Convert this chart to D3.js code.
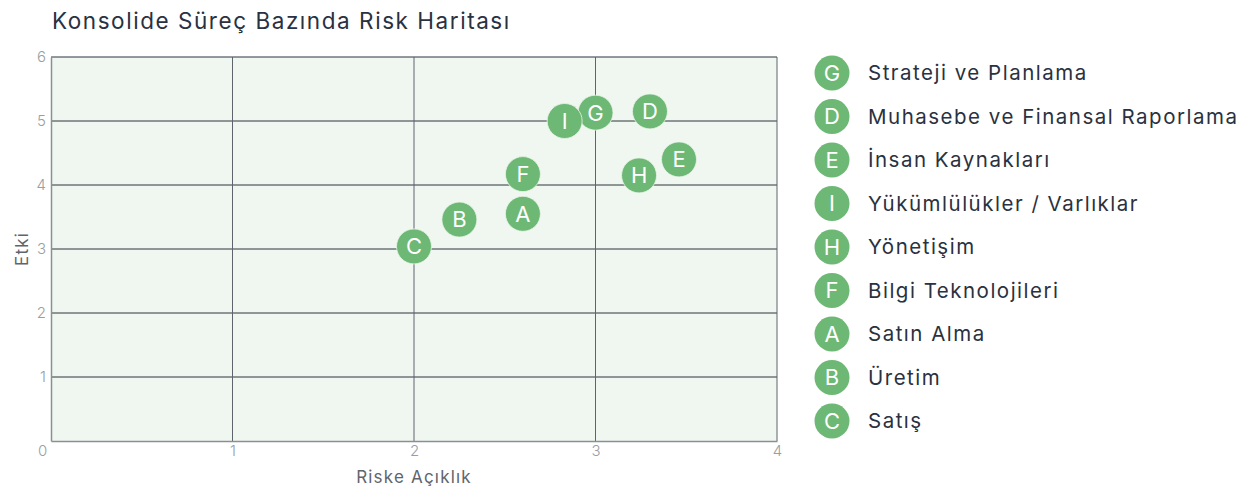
<!DOCTYPE html>
<html><head><meta charset="utf-8">
<script src="https://cdn.jsdelivr.net/npm/d3@7"></script>
<style>
body{margin:0;background:#fff;}
svg text{font-family:Inter,"Open Sans",sans-serif;}
</style></head>
<body><svg id="c" width="1243" height="489"></svg>
<script>
const codes = ["G","D","E","I","H","F","A","B","C"];
const names = ["Strateji ve Planlama","Muhasebe ve Finansal Raporlama","İnsan Kaynakları","Yükümlülükler / Varlıklar","Yönetişim","Bilgi Teknolojileri","Satın Alma","Üretim","Satış"];
const exposure = [3.0, 3.3, 3.46, 2.83, 3.24, 2.6, 2.6, 2.25, 2.0];
const impact = [5.13, 5.15, 4.4, 5.0, 4.15, 4.17, 3.55, 3.46, 3.04];
const xTicks = [0,1,2,3,4];
const yTicks = [0,1,2,3,4,5,6];

const svg = d3.select("#c");
const green = "#6db875";
const x = d3.scaleLinear().domain([0,4]).range([51,777]);
const y = d3.scaleLinear().domain([0,6]).range([441,57]);

svg.append("text").attr("x",52).attr("y",29).attr("font-size",22.5).attr("letter-spacing",1.55).attr("fill","#2a3140").text("Konsolide Süreç Bazında Risk Haritası");

svg.append("rect").attr("x",x(0)).attr("y",y(6)).attr("width",x(4)-x(0)).attr("height",y(0)-y(6)).attr("fill","#f0f7f0");

// grid
svg.append("g").selectAll("line").data(yTicks.filter(d=>d>0)).join("line")
  .attr("x1",x(0)).attr("x2",x(4)).attr("y1",d=>y(d)).attr("y2",d=>y(d)).attr("stroke","#2d3440").attr("stroke-width",1);
svg.append("g").selectAll("line").data(xTicks.filter(d=>d>0)).join("line")
  .attr("y1",y(0)).attr("y2",y(6)).attr("x1",d=>x(d)).attr("x2",d=>x(d)).attr("stroke","#5e646c").attr("stroke-width",1);

const xa = svg.append("g").attr("transform",`translate(0,${y(0)})`)
  .call(d3.axisBottom(x).tickValues(xTicks).tickSize(0).tickPadding(4).tickFormat(d3.format("d")));
xa.select(".domain").attr("stroke","#8a8f94").attr("stroke-width",1.5);
xa.selectAll("text").attr("font-size",15).attr("fill","#9a9ea3").attr("font-family","Inter,sans-serif").attr("font-weight",300);
xa.selectAll(".tick").filter(d=>d===0).select("text").attr("dx",-9);

const ya = svg.append("g").attr("transform",`translate(${x(0)},0)`)
  .call(d3.axisLeft(y).tickValues(yTicks.filter(d=>d>0)).tickSize(0).tickPadding(5).tickFormat(d3.format("d")));
ya.select(".domain").attr("stroke","#8a8f94").attr("stroke-width",1.5);
ya.selectAll("text").attr("font-size",15).attr("fill","#9a9ea3").attr("font-family","Inter,sans-serif").attr("font-weight",300);

svg.append("text").attr("x",(x(0)+x(4))/2).attr("y",483).attr("text-anchor","middle").attr("font-size",17).attr("letter-spacing",1.2).attr("fill","#5f656d").text("Riske Açıklık");
svg.append("text").attr("transform",`translate(28,${(y(0)+y(6))/2}) rotate(-90)`).attr("text-anchor","middle").attr("font-size",17).attr("letter-spacing",1.2).attr("fill","#5f656d").text("Etki");

const pts = svg.append("g").selectAll("g").data(codes).join("g")
  .attr("transform",(d,i)=>`translate(${x(exposure[i])},${y(impact[i])})`);
pts.append("circle").attr("r",17.5).attr("fill",green).attr("stroke","#eaf5ea").attr("stroke-width",0.8);
pts.append("text").attr("text-anchor","middle").attr("dy","0.36em").attr("font-size",22).attr("fill","#fff").text(d=>d);

const lg = svg.append("g").selectAll("g").data(codes).join("g")
  .attr("transform",(d,i)=>`translate(832,${73+i*43.5})`);
lg.append("circle").attr("r",17.5).attr("fill",green);
lg.append("text").attr("text-anchor","middle").attr("dy","0.36em").attr("font-size",22).attr("fill","#fff").text(d=>d);
lg.append("text").attr("x",36).attr("dy","0.36em").attr("font-size",20.5).attr("letter-spacing",1.5).attr("fill","#2a3140").text((d,i)=>names[i]);
</script></body></html>
